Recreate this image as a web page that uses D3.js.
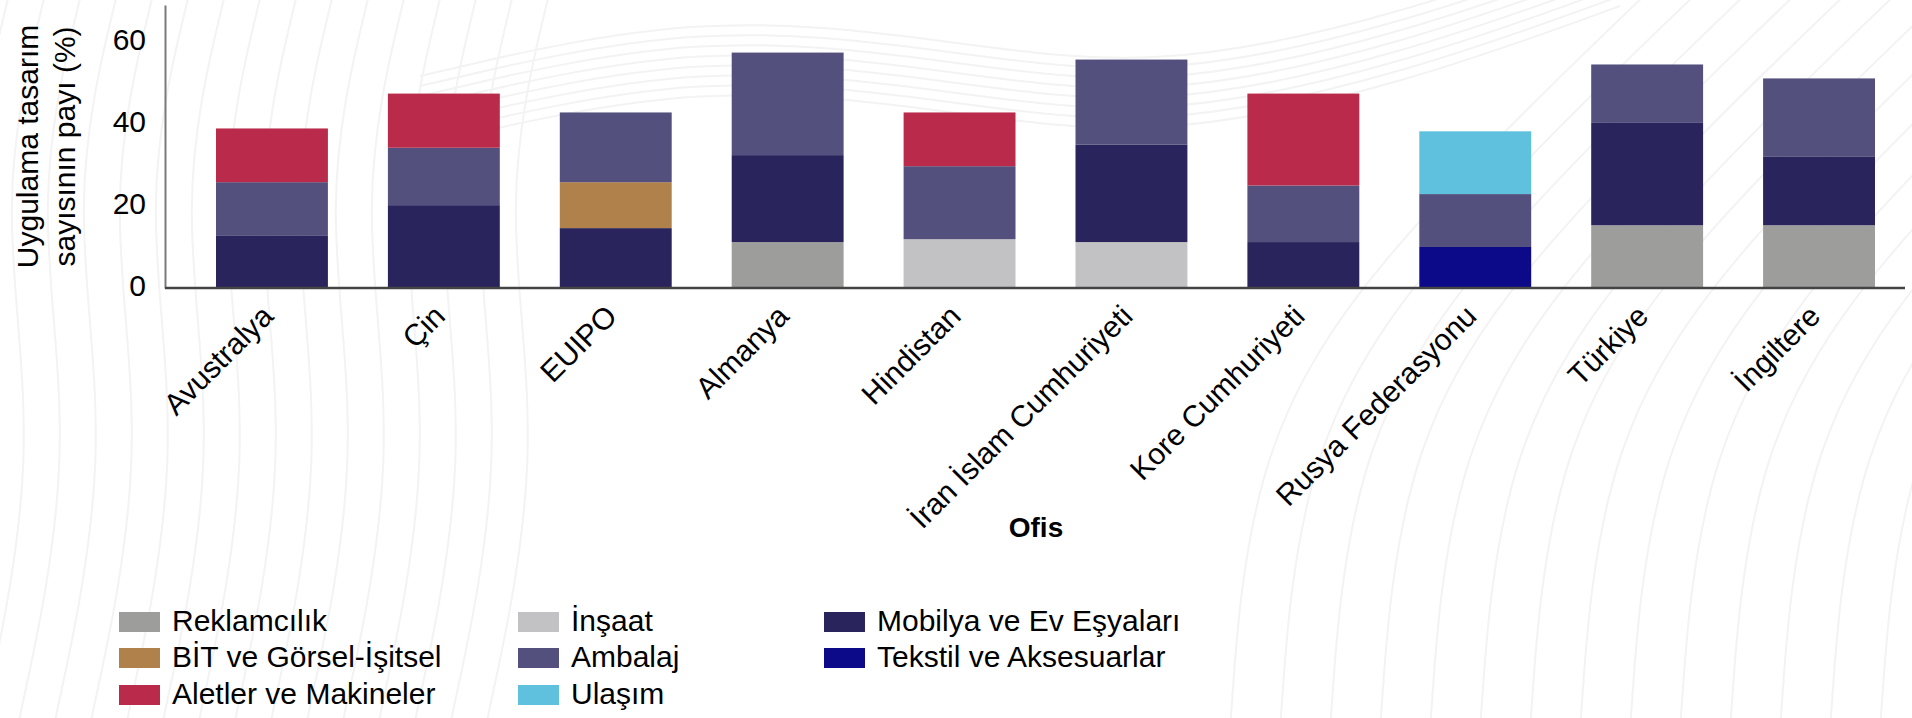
<!DOCTYPE html>
<html lang="tr">
<head>
<meta charset="utf-8">
<title>Uygulama tasarım sayısının payı</title>
<script src="https://cdn.jsdelivr.net/npm/d3@7"></script>
<style>
  html, body { margin: 0; padding: 0; background: #ffffff; }
  svg { display: block; }
  text { font-family: "Liberation Sans", Arial, Helvetica, sans-serif; fill: #000; }
</style>
</head>
<body>
<svg id="chart" width="1912" height="718"></svg>
<script>
// Offices along the x axis
const offices = ["Avustralya", "Çin", "EUIPO", "Almanya", "Hindistan",
  "İran İslam Cumhuriyeti", "Kore Cumhuriyeti", "Rusya Federasyonu", "Türkiye", "İngiltere"];

// Share of application designs per class (%), one value per office
const reklamcilik = [0, 0, 0, 11.2, 0, 0, 0, 0, 15.3, 15.3];
const insaat      = [0, 0, 0, 0, 11.9, 11.2, 0, 0, 0, 0];
const tekstil     = [0, 0, 0, 0, 0, 0, 0, 10.0, 0, 0];
const mobilya     = [12.7, 20.2, 14.6, 21.2, 0, 23.8, 11.2, 0, 25.1, 16.8];
const bit         = [0, 0, 11.2, 0, 0, 0, 0, 0, 0, 0];
const ambalaj     = [13.1, 14.0, 17.0, 25.0, 17.8, 20.7, 13.8, 12.9, 14.1, 19.0];
const aletler     = [13.1, 13.2, 0, 0, 13.1, 0, 22.4, 0, 0, 0];
const ulasim      = [0, 0, 0, 0, 0, 0, 0, 15.3, 0, 0];

// Series names (stacking order, bottom to top) and legend order
const stackKeys = ["Reklamcılık", "İnşaat", "Tekstil ve Aksesuarlar", "Mobilya ve Ev Eşyaları",
  "BİT ve Görsel-İşitsel", "Ambalaj", "Aletler ve Makineler", "Ulaşım"];
const legendKeys = ["Reklamcılık", "BİT ve Görsel-İşitsel", "Aletler ve Makineler",
  "İnşaat", "Ambalaj", "Ulaşım", "Mobilya ve Ev Eşyaları", "Tekstil ve Aksesuarlar"];
const yTicks = [0, 20, 40, 60];

const seriesValues = {
  "Reklamcılık": reklamcilik,
  "İnşaat": insaat,
  "Tekstil ve Aksesuarlar": tekstil,
  "Mobilya ve Ev Eşyaları": mobilya,
  "BİT ve Görsel-İşitsel": bit,
  "Ambalaj": ambalaj,
  "Aletler ve Makineler": aletler,
  "Ulaşım": ulasim
};

const colors = {
  "Reklamcılık": "#9d9d9c",
  "BİT ve Görsel-İşitsel": "#b0814b",
  "Aletler ve Makineler": "#ba2a4a",
  "İnşaat": "#c2c1c4",
  "Ambalaj": "#54507e",
  "Ulaşım": "#5fc1dd",
  "Mobilya ve Ev Eşyaları": "#29245c",
  "Tekstil ve Aksesuarlar": "#0d0a89"
};

const svg = d3.select("#chart");
const FONT = 30;

// Decorative contour-like background lines
const bg = svg.append("g").attr("fill", "none").attr("stroke", "#f3f3f3").attr("stroke-width", 2);
const curve = d3.line().curve(d3.curveBasis);
d3.range(16).forEach(i => {
  const x = -30 + i * 36;
  bg.append("path").attr("d", curve([[x + 40, -10], [x - 10, 200], [x + 35, 450], [x - 25, 730]]));
});
d3.range(8).forEach(j => {
  const y = 6 + j * 10;
  bg.append("path").attr("d", curve([[420, y + 70], [700, y + 5], [950, y + 35], [1150, y + 65], [1400, y + 10], [1620, y - 70]]));
});
d3.range(14).forEach(k => {
  const x = 1230 + k * 50;
  bg.append("path").attr("d", curve([[x, 730], [x + 20, 450], [x + 150, 250], [x + 420, -10]]));
});

// Scales
const x = d3.scaleBand().domain(offices).range([216, 1875]).paddingInner(0.349).paddingOuter(0);
const y = d3.scaleLinear().domain([0, 69]).range([288, 5]);

// Stacked data
const table = offices.map((o, i) => {
  const row = { office: o };
  stackKeys.forEach(k => { row[k] = seriesValues[k][i]; });
  return row;
});
const stacked = d3.stack().keys(stackKeys)(table);

svg.append("g")
  .selectAll("g")
  .data(stacked)
  .join("g")
  .attr("fill", d => colors[d.key])
  .selectAll("rect")
  .data(d => d.filter(s => s[1] - s[0] > 0))
  .join("rect")
  .attr("x", d => x(d.data.office))
  .attr("width", x.bandwidth())
  .attr("y", d => y(d[1]))
  .attr("height", d => y(d[0]) - y(d[1]));

// Y axis
const yAxis = svg.append("g")
  .attr("transform", "translate(165,0)")
  .call(d3.axisLeft(y).tickValues(yTicks).tickSize(0).tickPadding(19));
yAxis.select(".domain").attr("stroke", "#7a7a7a").attr("stroke-width", 2);
yAxis.selectAll(".tick text")
  .attr("font-size", FONT)
  .attr("font-family", "\"Liberation Sans\", Arial, sans-serif")
  .attr("fill", "#000")
  .attr("dy", "0.25em");

// X axis baseline
svg.append("line")
  .attr("x1", 165).attr("x2", 1905)
  .attr("y1", y(0)).attr("y2", y(0))
  .attr("stroke", "#444").attr("stroke-width", 2.5);

// X tick labels
svg.append("g")
  .selectAll("text")
  .data(offices)
  .join("text")
  .attr("transform", d => `translate(${x(d) + x.bandwidth() / 2 + 3},318) rotate(-45)`)
  .attr("text-anchor", "end")
  .attr("font-size", FONT)
  .text(d => d);

// Axis titles
svg.append("text")
  .attr("x", 1036).attr("y", 537)
  .attr("text-anchor", "middle")
  .attr("font-size", 28)
  .attr("font-weight", "bold")
  .text("Ofis");

const yTitle = ["Uygulama tasarım", "sayısının payı (%)"];
svg.append("g")
  .selectAll("text")
  .data(yTitle)
  .join("text")
  .attr("transform", (d, i) => `translate(${38 + i * 37},146.5) rotate(-90)`)
  .attr("text-anchor", "middle")
  .attr("font-size", FONT)
  .text(d => d);

// Legend: three columns, filled column by column
const colX = [119, 518, 824];
const rowY = [612, 648, 685];
const legend = svg.append("g")
  .selectAll("g")
  .data(legendKeys)
  .join("g")
  .attr("transform", (d, i) => `translate(${colX[Math.floor(i / 3)]},${rowY[i % 3]})`);
legend.append("rect")
  .attr("width", 41).attr("height", 20)
  .attr("fill", d => colors[d]);
legend.append("text")
  .attr("x", 53).attr("y", 19)
  .attr("font-size", FONT)
  .text(d => d);
</script>
</body>
</html>
